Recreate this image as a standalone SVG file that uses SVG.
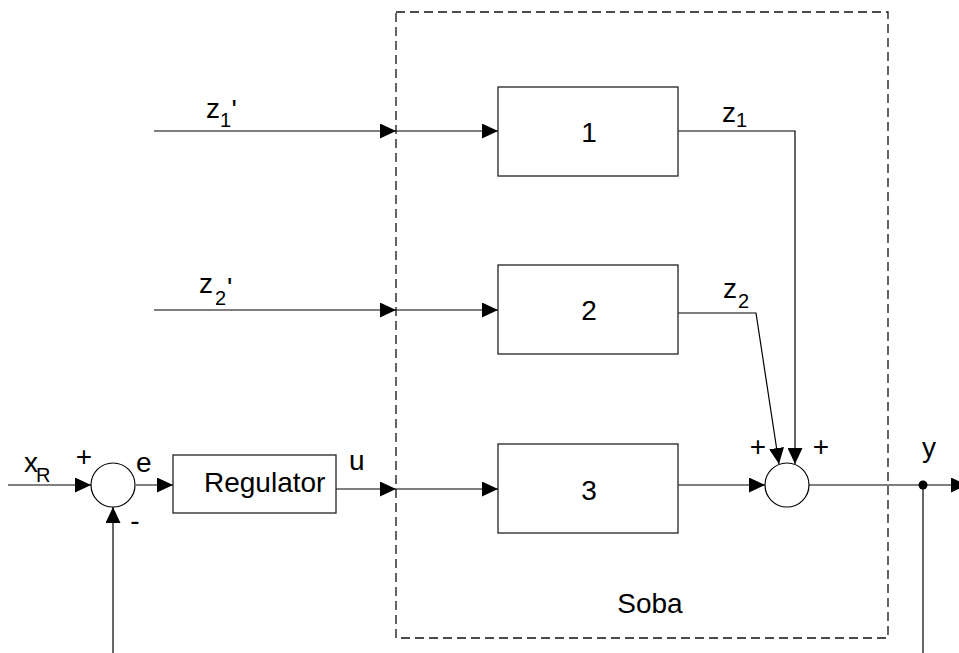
<svg xmlns="http://www.w3.org/2000/svg" width="959" height="653" viewBox="0 0 959 653">
<defs>
<style>
.box{fill:#fff;stroke:#222;stroke-width:1.3}
.ln{fill:none;stroke:#000;stroke-width:1.2}
.t{font-family:"Liberation Sans",Arial,sans-serif;font-size:28px;fill:#000}
.s{font-size:20px}
</style>
<marker id="ar" viewBox="0 0 16 15" refX="16" refY="7.5" markerWidth="16" markerHeight="15" markerUnits="userSpaceOnUse" orient="auto">
<path d="M0,0 L16,7.5 L0,15 Z" fill="#000"/>
</marker>
</defs>
<rect width="959" height="653" fill="#fff"/>
<g id="soba">
<rect x="396" y="12" width="492" height="626" fill="none" stroke="#111" stroke-width="1.3" stroke-dasharray="9,5"/>
<text class="t" x="650" y="613" text-anchor="middle">Soba</text>
</g>
<g id="connectors">
<path class="ln" d="M154,131 H396" marker-end="url(#ar)"/>
<path class="ln" d="M396,131 H498" marker-end="url(#ar)"/>
<path class="ln" d="M154,310 H396" marker-end="url(#ar)"/>
<path class="ln" d="M396,310 H498" marker-end="url(#ar)"/>
<path class="ln" d="M8,485 H91" marker-end="url(#ar)"/>
<path class="ln" d="M136,485 H173" marker-end="url(#ar)"/>
<path class="ln" d="M113,653 V507" marker-end="url(#ar)"/>
<path class="ln" d="M336,489 H396" marker-end="url(#ar)"/>
<path class="ln" d="M396,489 H498" marker-end="url(#ar)"/>
<path class="ln" d="M678,131 H795 V464" marker-end="url(#ar)"/>
<path class="ln" d="M678,313 H756 L779,464" marker-end="url(#ar)"/>
<path class="ln" d="M678,485 H765" marker-end="url(#ar)"/>
<path class="ln" d="M809,485 H967" marker-end="url(#ar)"/>
<path class="ln" d="M923,485 V653"/>
<circle cx="923" cy="485" r="4.5" fill="#000"/>
</g>
<g id="sum1">
<circle cx="113" cy="485" r="22" fill="#fff" stroke="#000" stroke-width="1.2"/>
</g>
<g id="sum2">
<circle cx="787" cy="485" r="22" fill="#fff" stroke="#000" stroke-width="1.2"/>
</g>
<g id="regulator">
<rect class="box" x="173" y="455" width="163" height="58"/>
<text class="t" x="204" y="492">Regulator</text>
</g>
<g id="block1">
<rect class="box" x="498" y="87" width="180" height="89"/>
<text class="t" x="589" y="142" text-anchor="middle">1</text>
</g>
<g id="block2">
<rect class="box" x="498" y="265" width="180" height="89"/>
<text class="t" x="589" y="320" text-anchor="middle">2</text>
</g>
<g id="block3">
<rect class="box" x="498" y="444" width="180" height="89"/>
<text class="t" x="589" y="500" text-anchor="middle">3</text>
</g>
<g id="labels">
<text class="t" x="206" y="118">z</text><text class="t s" x="220" y="127">1</text><text class="t" x="231.5" y="119">'</text>
<text class="t" x="199" y="293">z</text><text class="t s" x="215" y="305">2</text><text class="t" x="227" y="297">'</text>
<text class="t" x="722" y="122">z</text><text class="t s" x="736" y="127">1</text>
<text class="t" x="723" y="298">z</text><text class="t s" x="738" y="308">2</text>
<text class="t" x="24" y="472">x</text><text class="t s" x="36" y="482">R</text>
<text class="t" x="84" y="466" text-anchor="middle">+</text>
<text class="t" x="136" y="472">e</text>
<text class="t" x="349" y="470">u</text>
<text class="t" x="135" y="530" text-anchor="middle">-</text>
<text class="t" x="758" y="456" text-anchor="middle">+</text>
<text class="t" x="821" y="456" text-anchor="middle">+</text>
<text class="t" x="922" y="457">y</text>
</g>
</svg>
